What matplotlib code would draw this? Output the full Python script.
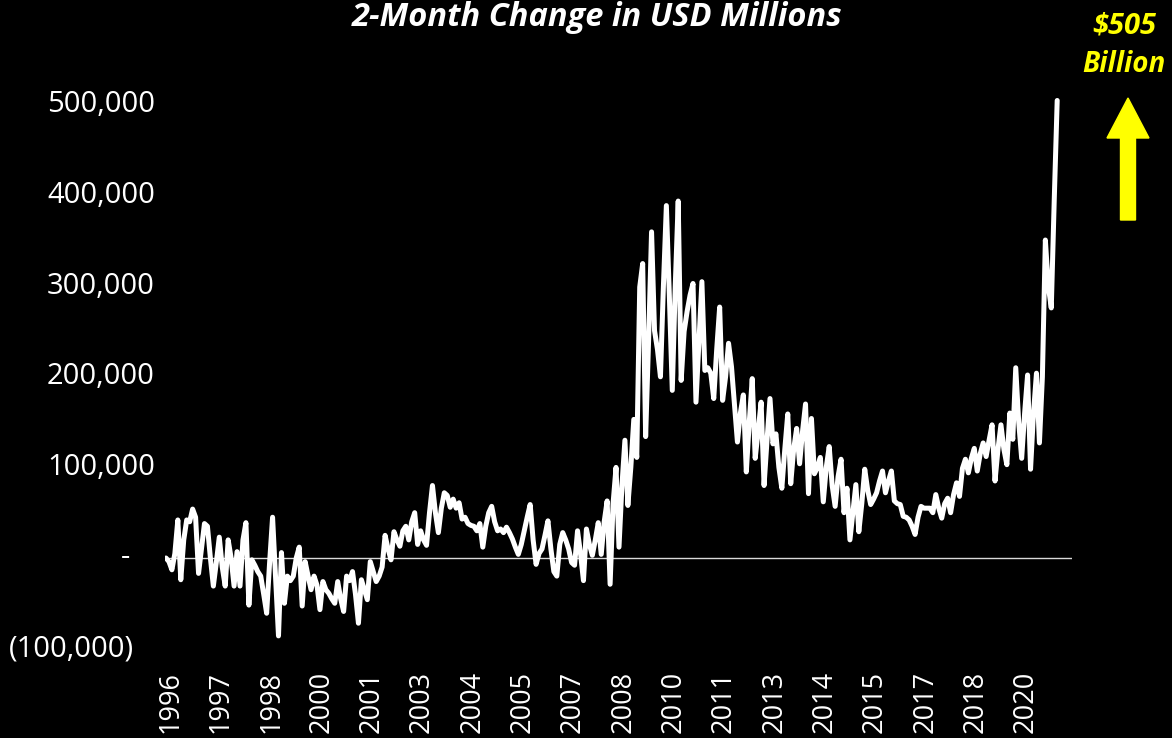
import matplotlib
matplotlib.use("Agg")
import matplotlib.pyplot as plt
import matplotlib.transforms as mtransforms
from matplotlib.patches import FancyArrow
import numpy as np

# Two-month change, USD billions, monthly from the start of 1996
change_bn = [
    0, -4, -13, 5, 42, -24, 20, 42, 40, 54,
    45, -17, 10, 38, 35, 0, -31, -5, 23, -10,
    -31, 20, 0, -31, 7, -31, 20, 39, -52, -2,
    -8, -15, -20, -40, -61, -5, 45, -20, -86, 6,
    -50, -20, -25, -20, 0, 12, -53, -4, -20, -35,
    -20, -30, -57, -26, -35, -39, -45, -50, -26, -45,
    -59, -20, -25, -15, -40, -72, -24, -35, -46, -4,
    -15, -26, -20, -10, 25, 10, -2, 29, 20, 13,
    30, 35, 20, 40, 50, 15, 30, 20, 14, 50,
    80, 50, 28, 55, 72, 69, 56, 65, 55, 61,
    43, 45, 38, 36, 35, 30, 38, 12, 35, 50,
    57, 40, 30, 32, 28, 34, 28, 21, 12, 4,
    15, 30, 45, 59, 20, -7, 5, 10, 25, 41,
    10, -15, -20, 15, 28, 20, 10, -5, -8, 30,
    5, -25, 32, 15, 3, 20, 39, 4, 40, 63,
    -29, 60, 100, 12, 80, 130, 58, 100, 153, 111,
    299, 325, 134, 240, 360, 251, 230, 200, 300, 389,
    290, 185, 300, 394, 196, 250, 272, 290, 303, 172,
    238, 305, 207, 210, 204, 176, 230, 277, 174, 200,
    237, 211, 170, 128, 160, 180, 95, 150, 198, 110,
    140, 172, 80, 130, 176, 126, 137, 100, 77, 120,
    159, 82, 120, 143, 104, 140, 170, 71, 154, 93,
    100, 111, 62, 100, 123, 80, 57, 90, 109, 50,
    77, 20, 50, 81, 29, 60, 98, 75, 59, 65,
    72, 85, 96, 72, 85, 96, 63, 60, 59, 46,
    45, 42, 35, 26, 45, 57, 55, 55, 55, 50,
    70, 55, 44, 60, 66, 50, 70, 83, 68, 99,
    109, 94, 110, 121, 96, 115, 127, 112, 130, 147,
    85, 120, 147, 120, 103, 160, 131, 210, 150, 110,
    160, 202, 98, 160, 204, 127, 200, 351, 300, 276,
    395, 505,
]

year_labels = ["1996", "1997", "1998", "2000", "2001", "2003", "2004", "2005",
               "2007", "2008", "2010", "2011", "2013", "2014", "2015", "2017",
               "2018", "2020"]
label_step = 17  # months between category labels

y_ticks = [500000, 400000, 300000, 200000, 100000, 0, -100000]
y_labels = ["500,000", "400,000", "300,000", "200,000", "100,000", "-", "(100,000)"]

title = "2-Month Change in USD Millions"
callout = ["$505", "Billion"]

FONT = "Open Sans"
W, H = 1172, 738
fig = plt.figure(figsize=(W / 100, H / 100), dpi=100, facecolor="black")

L, R = 164.5, 1072.0
B, T = 648.6, 59.7
ax = fig.add_axes([L / W, 1 - B / H, (R - L) / W, (B - T) / H])
ax.set_facecolor("black")

values = np.array(change_bn, dtype=float) * 1000.0  # USD millions
months = np.arange(len(values))

ax.axhline(0, color="#d9d9d9", lw=1.0, zorder=1)
ax.plot(months, values, color="white", lw=3.6, solid_joinstyle="round",
        solid_capstyle="round", zorder=2)

ax.set_xlim(-0.5, 306)
ax.set_ylim(-100000, 550000)

for s in ax.spines.values():
    s.set_visible(False)

tick_pos = [1.5 + label_step * i for i in range(len(year_labels))]
ax.set_xticks(tick_pos)
ax.set_xticklabels(year_labels, rotation=90, fontsize=19.5, color="white",
                   family=FONT, va="top", ha="center")
ax.tick_params(axis="x", length=0, pad=16)
ax.set_yticks([])

# value labels on the left
trans = mtransforms.blended_transform_factory(ax.transAxes, ax.transData)
for v, lab in zip(y_ticks, y_labels):
    if lab == "-":
        x_px, ha = 125.0, "center"
    elif lab.startswith("("):
        x_px, ha = 134.0, "right"
    else:
        x_px, ha = 155.0, "right"
    ax.text((x_px - L) / (R - L), v, lab, transform=trans, ha=ha, va="center",
            fontsize=21, color="white", family=FONT, clip_on=False)

fig.text(597 / W, 1 - 1 / H, title, ha="center", va="top", fontsize=23.5,
         fontweight="bold", style="italic", color="white", family=FONT)

fig.text(1124 / W, 1 - 26 / H, callout[0], ha="center", va="center", fontsize=21,
         fontweight="bold", style="italic", color="#ffff00", family=FONT)
fig.text(1124 / W, 1 - 64 / H, callout[1], ha="center", va="center", fontsize=20,
         fontweight="bold", style="italic", color="#ffff00", family=FONT)

arrow = FancyArrow(11.28, (H - 220) / 100, 0, 1.22, width=0.15, head_width=0.42,
                   head_length=0.40, length_includes_head=True, color="#ffff00",
                   transform=fig.dpi_scale_trans)
fig.patches.append(arrow)

fig.savefig("out.png", dpi=100, facecolor="black")
